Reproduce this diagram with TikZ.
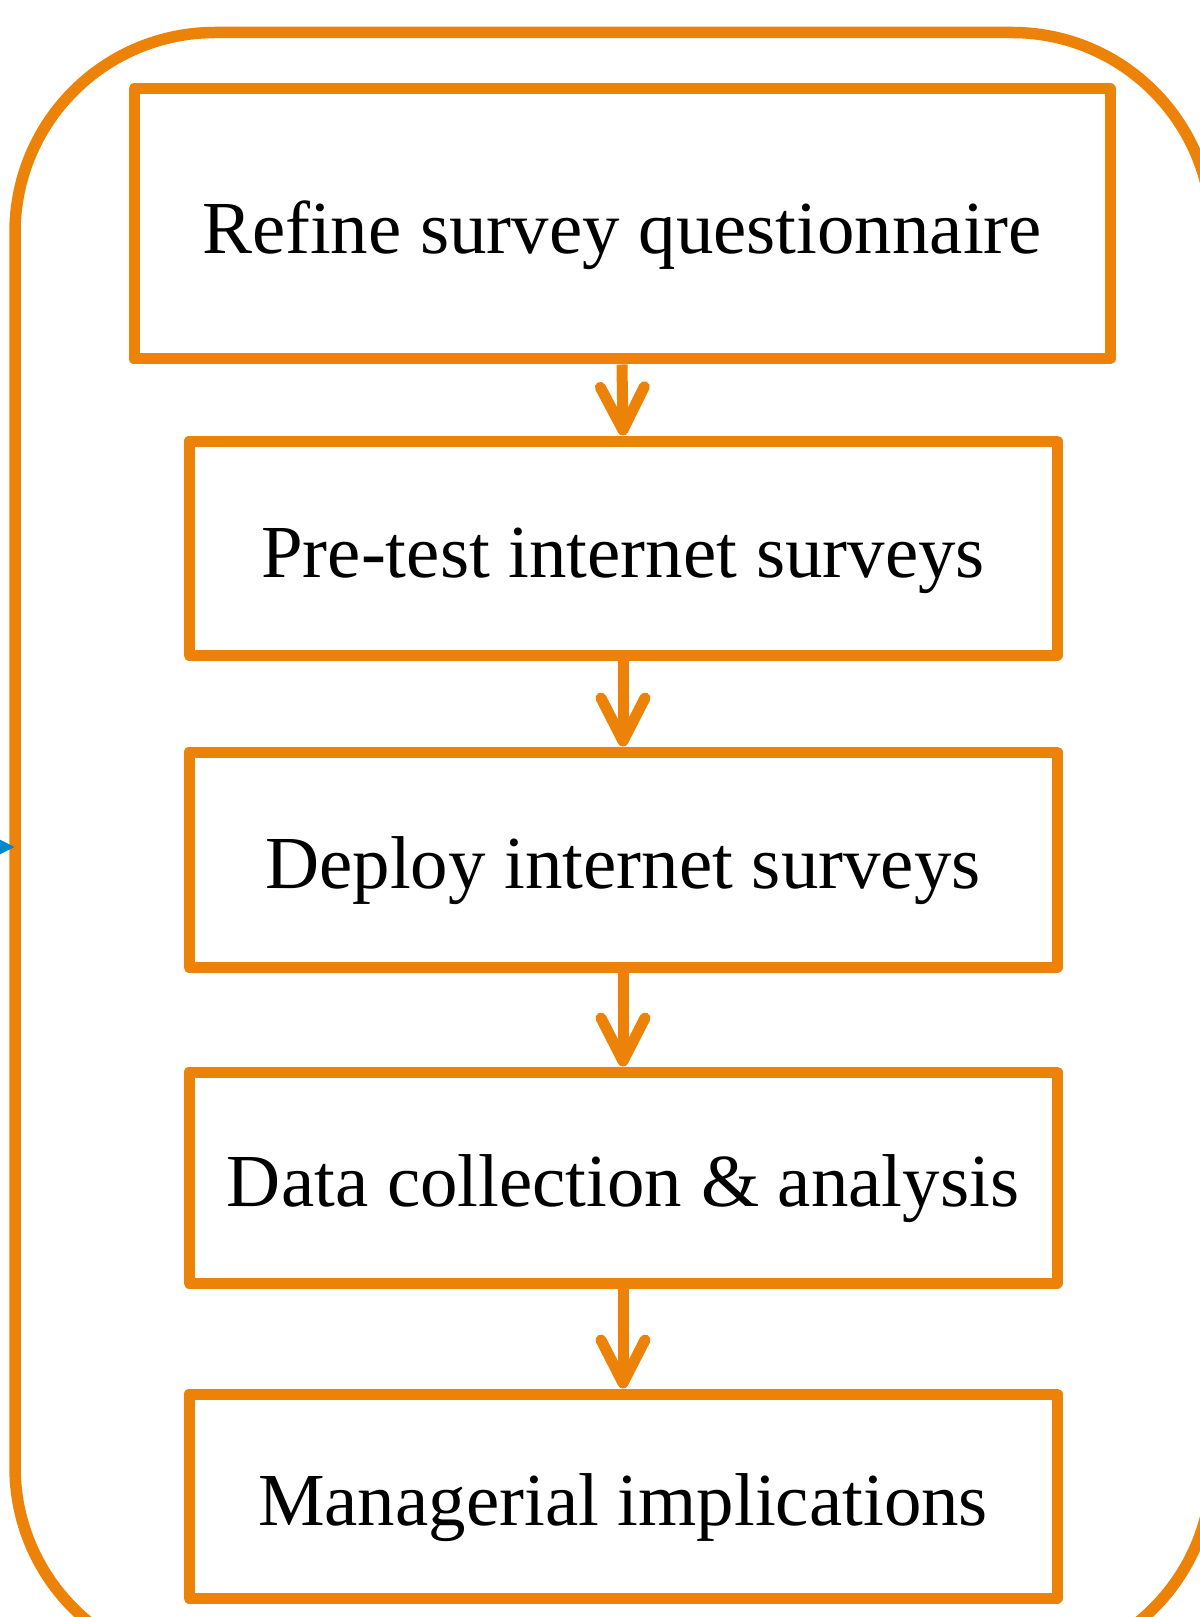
\documentclass[tikz,border=0pt]{standalone}
\usepackage{fontspec}
\setmainfont{Liberation Serif}
\usetikzlibrary{arrows.meta}
\definecolor{flowOrange}{RGB}{236,130,8}
\definecolor{feedBlue}{RGB}{0,136,204}

\begin{document}
\begin{tikzpicture}[
  stage/.style={draw=flowOrange, line width=0.22cm, line join=round, inner sep=0pt,
    minimum width=17.36cm, text height=1.4cm, text depth=0.23cm,
    font=\fontsize{42.6}{50}\selectfont},
  flow/.style={draw=flowOrange, line width=0.22cm,
    -{Straight Barb[length=0.86cm, width=0.88cm, round]}}
]
\useasboundingbox (0,0) rectangle (23.98,-32.34);

% Outer loop frame
\node[draw=flowOrange, line width=0.23cm, rounded corners=4cm, inner sep=0pt, outer sep=0pt,
  minimum width=23.94cm, minimum height=32.69cm] (frame) at (12.27,-16.995) {};

% Feedback arrow (enters from the left)
\coordinate (feedin) at (-1.5,-16.94);
\draw[feedBlue, line width=0.1cm, -{Triangle[length=0.4cm, width=0.36cm]}] (feedin) -- (feedin -| frame.west);

% Stages
\node[stage, minimum width=19.52cm, minimum height=5.40cm] (refine) at (12.44,-4.48) {Refine survey questionnaire};
\node[stage, minimum height=4.28cm] (pretest) at (12.46,-10.96) {Pre-test internet surveys};
\node[stage, minimum height=4.30cm] (deploy) at (12.46,-17.19) {Deploy internet surveys};
\node[stage, minimum height=4.22cm] (collect) at (12.46,-23.55) {Data collection \& analysis};
\node[stage, minimum height=4.08cm] (implic) at (12.46,-29.92) {Managerial implications};

% Arrows
\draw[flow] (refine.south) -- (pretest.north);
\draw[flow] (pretest.south) -- (deploy.north);
\draw[flow] (deploy.south) -- (collect.north);
\draw[flow] (collect.south) -- (implic.north);
\end{tikzpicture}
\end{document}
